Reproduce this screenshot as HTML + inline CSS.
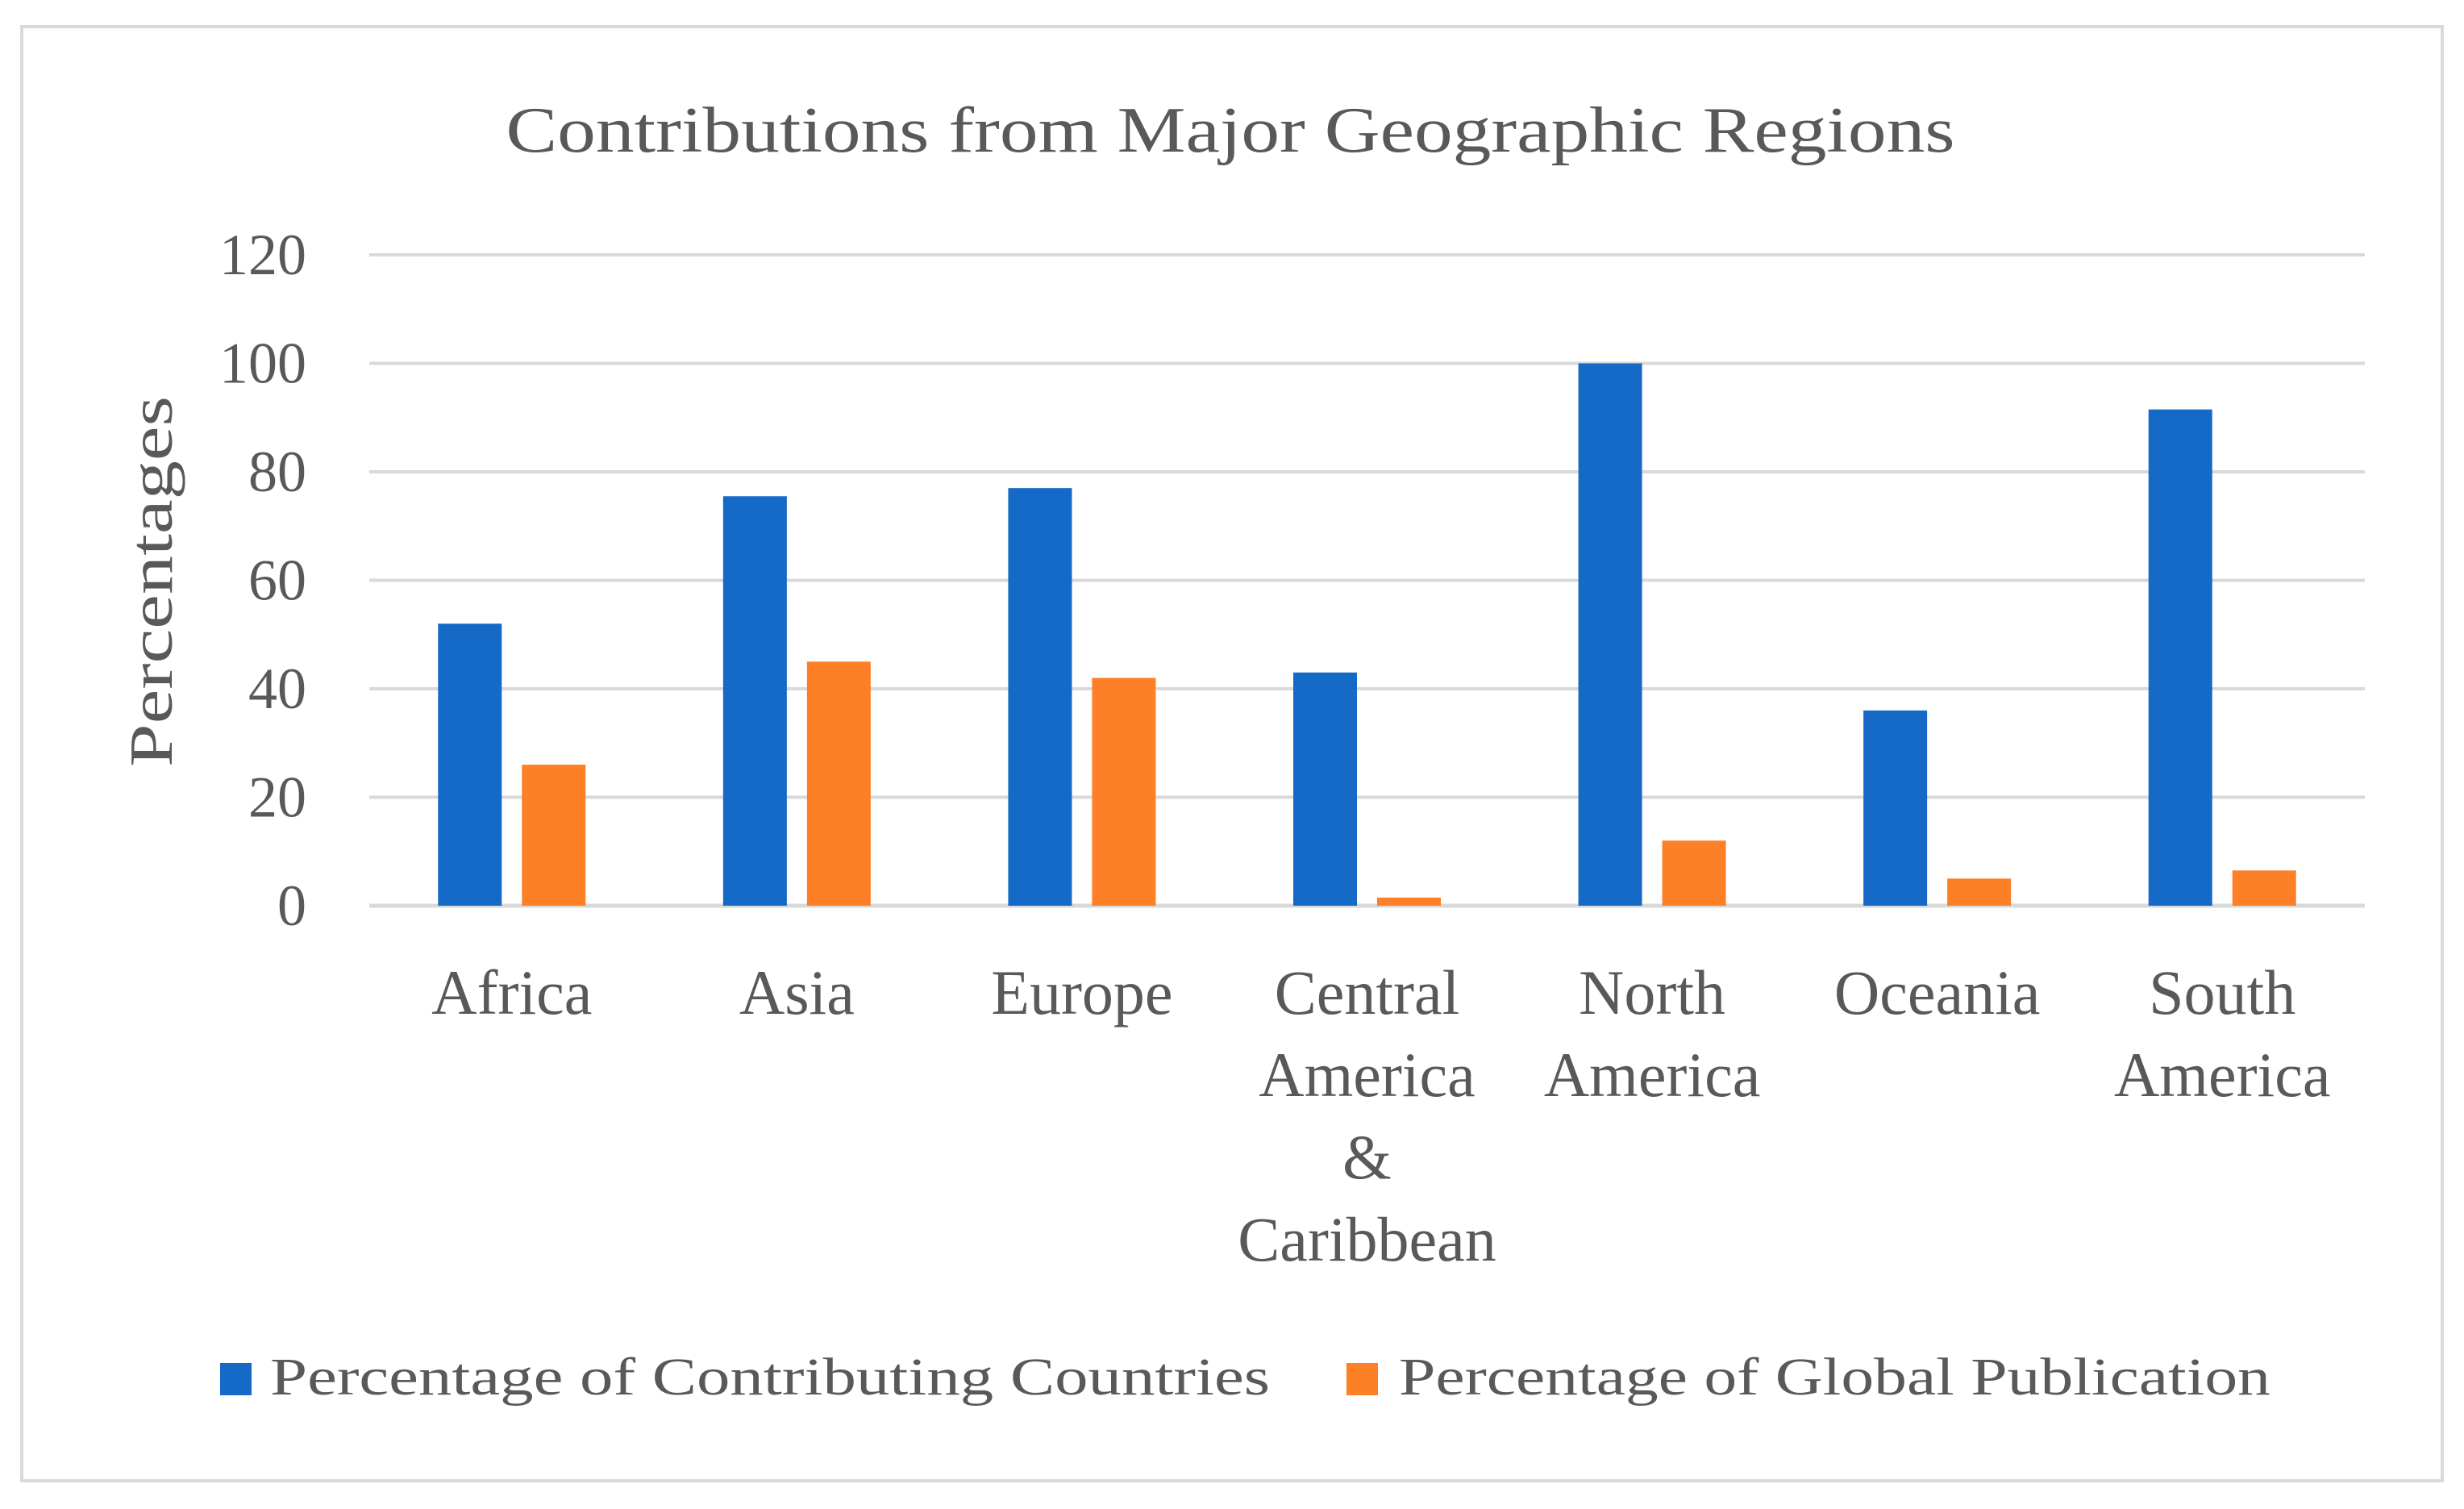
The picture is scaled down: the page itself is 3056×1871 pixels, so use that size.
<!DOCTYPE html>
<html><head><meta charset="utf-8"><style>
html,body{margin:0;padding:0;background:#fff;}
svg{display:block;font-family:"Liberation Serif",serif;}
</style></head><body>
<svg id="chart" width="3056" height="1871" viewBox="0 0 3056 1871" xmlns="http://www.w3.org/2000/svg">
<rect x="27" y="33" width="3002" height="1803" fill="#fff" stroke="#d9d9d9" stroke-width="4"/>
<text x="1526" y="188" text-anchor="middle" font-size="80" fill="#595959" textLength="1797" lengthAdjust="spacingAndGlyphs">Contributions from Major Geographic Regions</text>
<text transform="translate(213,721) rotate(-90)" text-anchor="middle" font-size="76" fill="#595959" textLength="460" lengthAdjust="spacingAndGlyphs">Percentages</text>
<g id="grid"></g><g id="bars"></g><g id="labels"></g>
<g>
<rect x="273" y="1690" width="39" height="40" fill="#1569c7"/>
<text x="335" y="1729" font-size="66" fill="#595959" textLength="1240" lengthAdjust="spacingAndGlyphs">Percentage of Contributing Countries</text>
<rect x="1670" y="1690" width="39" height="40" fill="#fd7f26"/>
<text x="1735" y="1729" font-size="66" fill="#595959" textLength="1081" lengthAdjust="spacingAndGlyphs">Percentage of Global Publication</text>
</g>
</svg>
<script>
const categories=[["Africa"],["Asia"],["Europe"],["Central","America","&","Caribbean"],["North","America"],["Oceania"],["South","America"]];
const countries=[52,75.5,77,43,100,36,91.5];
const publication=[26,45,42,1.5,12,5,6.5];
const ticks=[0,20,40,60,80,100,120];
const NS="http://www.w3.org/2000/svg";
const x0=458,x1=2933,y0=1123,y1=316,vmax=120;
const bw=(x1-x0)/categories.length;
function yS(v){return y0-(v/vmax)*(y0-y1);}
function xC(i){return x0+bw*(i+0.5);}
function mk(tag,attrs,parent){const e=document.createElementNS(NS,tag);for(const k in attrs)e.setAttribute(k,attrs[k]);parent.appendChild(e);return e;}
const grid=document.getElementById('grid'),bars=document.getElementById('bars'),labels=document.getElementById('labels');
ticks.forEach(t=>{
 const l=mk('line',{x1:x0,x2:x1,y1:yS(t),y2:yS(t),stroke:'#d9d9d9','stroke-width':t===0?5:4},grid);
 
 
 const tx=mk('text',{x:380,y:yS(t)+24,'text-anchor':'end','font-size':72,fill:'#595959'},labels);
 tx.textContent=t;
 
 
});
const barW=79,gap=25;
categories.forEach((c,i)=>{
 const cx=xC(i);
 const b1=mk('rect',{x:cx-gap/2-barW,y:yS(countries[i]),width:barW,height:y0-yS(countries[i]),fill:'#1569c7'},bars);
 
 
 const b2=mk('rect',{x:cx+gap/2,y:yS(publication[i]),width:barW,height:y0-yS(publication[i]),fill:'#fd7f26'},bars);
 
 
 c.forEach((line,j)=>{
  const t=mk('text',{x:cx,y:1257+j*102,'text-anchor':'middle','font-size':78,fill:'#595959'},labels);
  t.textContent=line;
  
  
 });
});
</script>
</body></html>
